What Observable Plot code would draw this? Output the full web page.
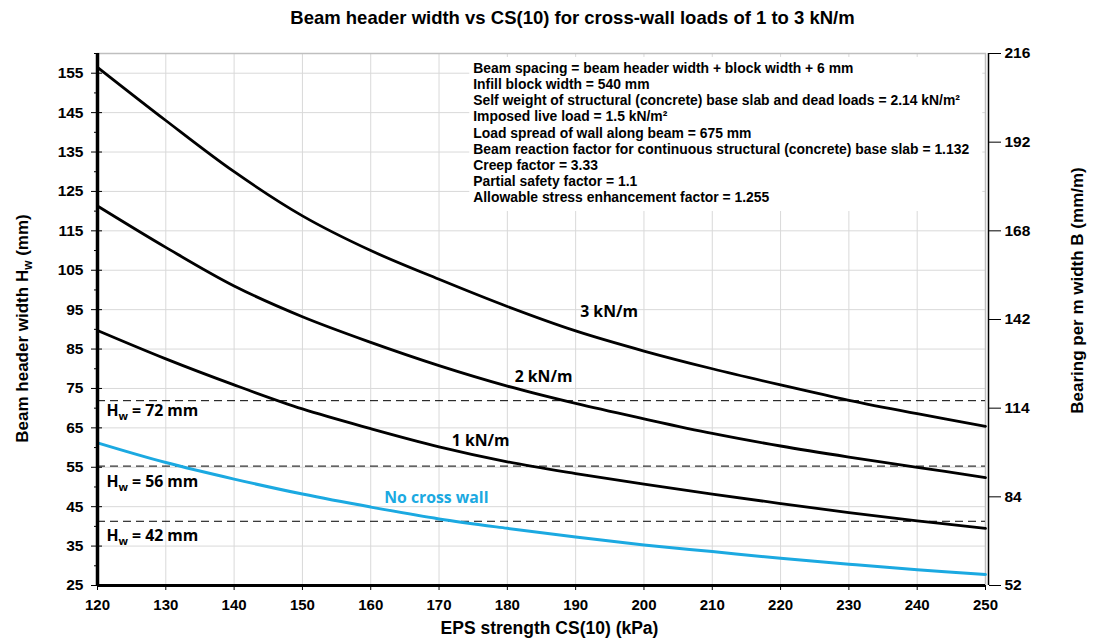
<!DOCTYPE html>
<html>
<head>
<meta charset="utf-8">
<script src="https://cdn.jsdelivr.net/npm/d3@7"></script>
<script src="https://cdn.jsdelivr.net/npm/@observablehq/plot@0.6"></script>
<style>
  body { margin: 0; background: #fff; }
  #title { box-sizing: border-box; width: 1097px; height: 40px; padding-top: 7px; padding-left: 48px;
    text-align: center; font: bold 18.5px "Liberation Sans", Arial, sans-serif; line-height: 22px; color: #000; }
  #chart svg { display: block; }
</style>
</head>
<body>
<div id="title">Beam header width vs CS(10) for cross-wall loads of 1 to 3 kN/m</div>
<div id="chart"></div>
<script>
// ---- data ----
const cs = [120, 130, 140, 150, 160, 170, 180, 190, 200, 210, 220, 230, 240, 250];
const load3 = [156.5, 143.0, 130.0, 118.8, 110.0, 102.7, 95.8, 89.6, 84.5, 80.0, 75.9, 72.0, 68.6, 65.4];
const load2 = [121.3, 110.8, 101.0, 93.2, 86.7, 80.8, 75.6, 71.2, 67.3, 63.6, 60.4, 57.6, 55.0, 52.4];
const load1 = [89.7, 82.5, 75.9, 69.8, 64.8, 60.2, 56.4, 53.4, 50.7, 48.2, 45.8, 43.5, 41.4, 39.5];
const noWall = [61.2, 56.2, 52.0, 48.2, 44.9, 41.9, 39.5, 37.3, 35.3, 33.6, 31.9, 30.4, 29.0, 27.8];

const hwLabels = [72, 56, 42];           // labelled header widths
const hwLines = [71.9, 55.3, 41.3];      // dashed line levels as drawn
const xTicks = [120, 130, 140, 150, 160, 170, 180, 190, 200, 210, 220, 230, 240, 250];
const yTicks = [25, 35, 45, 55, 65, 75, 85, 95, 105, 115, 125, 135, 145, 155];
const yMinor = [30, 40, 50, 60, 70, 80, 90, 100, 110, 120, 130, 140, 150, 160];
const rightLabels = [52, 84, 114, 142, 168, 192, 216];

const notes = [
  "Beam spacing = beam header width + block width + 6 mm",
  "Infill block width = 540 mm",
  "Self weight of structural (concrete) base slab and dead loads = 2.14 kN/m²",
  "Imposed live load = 1.5 kN/m²",
  "Load spread of wall along beam = 675 mm",
  "Beam reaction factor for continuous structural (concrete) base slab = 1.132",
  "Creep factor = 3.33",
  "Partial safety factor = 1.1",
  "Allowable stress enhancement factor = 1.255"
];

const seriesNames = ["3 kN/m", "2 kN/m", "1 kN/m", "No cross wall"];
const seriesValues = [load3, load2, load1, noWall];
const rows = seriesNames.flatMap((s, k) => cs.map((x, i) => ({series: s, x, y: seriesValues[k][i]})));

const BLUE = "#1ba9e1";
const curveLabels = [
  {text: "3 kN/m", x: 194.9, y: 94.4, color: "#000"},
  {text: "2 kN/m", x: 185.3, y: 77.8, color: "#000"},
  {text: "1 kN/m", x: 176.1, y: 61.8, color: "#000"},
  {text: "No cross wall", x: 169.6, y: 47.1, color: BLUE}
];
const hwText = [
  {text: `H_w = ${hwLabels[0]} mm`, y: 69.4},
  {text: `H_w = ${hwLabels[1]} mm`, y: 51.2},
  {text: `H_w = ${hwLabels[2]} mm`, y: 37.6}
];

const yMin = 25, yMax = 160;
const rightPos = rightLabels.map((d, i) => yMin + i * (yMax - yMin) / (rightLabels.length - 1));

const labelFont = "'Open Sans', Lato, sans-serif";
const axisFont = "'Liberation Sans', Arial, sans-serif";

const chart = Plot.plot({
  width: 1097,
  height: 604,
  marginLeft: 97,
  marginRight: 112,
  marginTop: 13,
  marginBottom: 59,
  x: {domain: [120, 250]},
  y: {domain: [yMin, yMax]},
  style: {fontFamily: axisFont, background: "#fff", color: "#000"},
  marks: [
    Plot.gridX(xTicks.slice(1, -1), {stroke: "#d9d9d9", strokeOpacity: 1, strokeWidth: 1}),
    Plot.gridY(yTicks.slice(1), {stroke: "#d9d9d9", strokeOpacity: 1, strokeWidth: 1}),
    Plot.frame({stroke: "#bfbfbf", strokeWidth: 1.5}),
    // white box behind the notes
    Plot.rect([0], {x1: 174.5, x2: 249.6, y1: 119.9, y2: 159.0, fill: "#fff"}),
    Plot.text([notes.join("\n")], {x: 175.0, y: 157.9, lineAnchor: "top", textAnchor: "start",
      fontSize: 13.9, fontWeight: "bold", lineHeight: 16.1 / 13.9, fill: "#000"}),
    // dashed header width levels
    Plot.ruleY(hwLines, {x1: 120, x2: 250, stroke: "#000", strokeWidth: 1, strokeDasharray: "8,5"}),
    // curves
    Plot.line(rows.filter(d => d.series !== "No cross wall"), {x: "x", y: "y", z: "series",
      stroke: "#000", strokeWidth: 2.8, curve: "catmull-rom"}),
    Plot.line(rows.filter(d => d.series === "No cross wall"), {x: "x", y: "y",
      stroke: BLUE, strokeWidth: 3, curve: "catmull-rom"}),
    // curve labels
    Plot.text(curveLabels, {x: "x", y: "y", text: "text", fill: d => d.color, fontFamily: labelFont,
      fontSize: 15.8, fontWeight: "bold"}),
    Plot.text(hwText, {x: 121.3, y: "y", text: "text", textAnchor: "start", fill: "#000",
      fontFamily: labelFont, fontSize: 15.8, fontWeight: "bold"}),
    // bottom axis
    Plot.axisX(xTicks, {tickSize: 5, tickPadding: 9, fontSize: 15, fontWeight: "bold", label: null,
      tickFormat: d => String(d)}),
    // left axis: major crossing ticks, minor ticks
    Plot.axisY(yTicks, {anchor: "left", tickSize: 11, dx: 5, tickPadding: 8, fontSize: 15.5,
      fontWeight: "bold", label: null, tickFormat: d => String(d)}),
    Plot.axisY(yMinor, {anchor: "left", tickSize: 5, dx: 2, text: null, label: null}),
    // right secondary axis
    Plot.axisY(rightPos, {anchor: "right", tickSize: 12, dx: 3, tickPadding: 4, fontSize: 15.5,
      fontWeight: "bold", label: null, tickFormat: (d, i) => String(rightLabels[i])}),
    Plot.ruleX([250], {y1: yMin, y2: yMax, dx: 3, stroke: "#000", strokeWidth: 1.5}),
    Plot.ruleX([120], {y1: yMin, y2: yMax, stroke: "#000", strokeWidth: 3.5}),
    Plot.ruleY([yMin], {x1: 120, x2: 250, stroke: "#000", strokeWidth: 3}),
    // axis titles
    Plot.text(["Beam header width H_w (mm)"], {frameAnchor: "left", textAnchor: "middle", rotate: -90,
      dx: -75, dy: 9, fontSize: 17, fontWeight: "bold", fill: "#000"}),
    Plot.text(["Bearing per m width B (mm/m)"], {frameAnchor: "right", textAnchor: "middle", rotate: -90,
      dx: 92, dy: -29, fontSize: 17, fontWeight: "bold", fill: "#000"}),
    Plot.text(["EPS strength CS(10) (kPa)"], {frameAnchor: "bottom", dx: 8, dy: 48,
      fontSize: 17.5, fontWeight: "bold", fill: "#000"})
  ]
});

// render "_w" as a subscript w
const NS = "http://www.w3.org/2000/svg";
chart.querySelectorAll("text, tspan").forEach(el => {
  if (el.children.length || !el.textContent.includes("_w")) return;
  const parts = el.textContent.split("_w");
  el.textContent = "";
  parts.forEach((p, i) => {
    if (i > 0) {
      const s = document.createElementNS(NS, "tspan");
      s.textContent = "w";
      s.setAttribute("font-size", "0.7em");
      s.setAttribute("dy", "4");
      el.appendChild(s);
    }
    const t = document.createElementNS(NS, "tspan");
    t.textContent = p;
    if (i > 0) t.setAttribute("dy", "-4");
    el.appendChild(t);
  });
});

document.getElementById("chart").appendChild(chart);
</script>
</body>
</html>
